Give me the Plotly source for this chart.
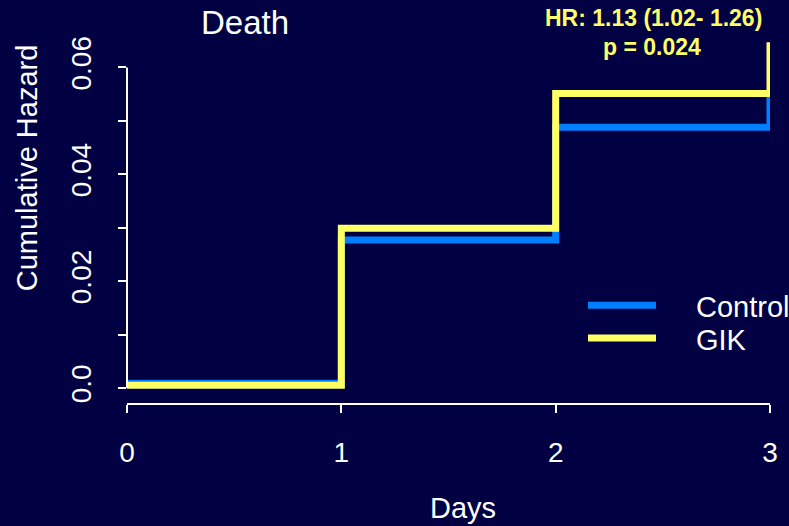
import plotly.graph_objects as go

days = [0, 1, 2, 3]
control = [0.0009, 0.0277, 0.0488, 0.0545]
gik = [0.0005, 0.0299, 0.0551, 0.0647]

y_ticks = [0.0, 0.01, 0.02, 0.03, 0.04, 0.05, 0.06]
y_labels = ["0.0", "", "0.02", "", "0.04", "", "0.06"]
x_ticks = [0, 1, 2, 3]

bg = "#000042"
blue = "#0080ff"
yellow = "#ffff66"
font = "Liberation Sans, Arial, sans-serif"

# plot area in pixels (left, right, top, bottom)
L, R, T, B = 127, 770, 13.5, 403
W, H = R - L, B - T


def px(x):
    return (x - L) / W


def py(y):
    return (B - y) / H


fig = go.Figure()
fig.add_trace(go.Scatter(x=days, y=control, mode="lines", line_shape="hv",
                         line=dict(color=blue, width=7), name="Control"))
fig.add_trace(go.Scatter(x=days, y=gik, mode="lines", line_shape="hv",
                         line=dict(color=yellow, width=7), name="GIK"))

# y axis line only from first to last tick, like R
fig.add_shape(type="line", xref="paper", yref="y", x0=0, x1=0,
              y0=y_ticks[0], y1=y_ticks[-1], line=dict(color="white", width=2))

# legend drawn by hand
for i, (lab, col) in enumerate([("Control", blue), ("GIK", yellow)]):
    yy = 305 + i * 33
    fig.add_shape(type="line", xref="paper", yref="paper",
                  x0=px(588), x1=px(656), y0=py(yy), y1=py(yy),
                  line=dict(color=col, width=7))
    fig.add_annotation(x=px(694), y=py(yy + 2), xref="paper", yref="paper",
                       text=lab, showarrow=False, xanchor="left", yanchor="middle",
                       font=dict(size=29, color="white", family=font))

fig.add_annotation(x=px(245), y=py(22), xref="paper", yref="paper", text="Death",
                   showarrow=False, xanchor="center", yanchor="middle",
                   font=dict(size=33, color="white", family=font))
fig.add_annotation(x=px(653), y=py(18), xref="paper", yref="paper",
                   text="<b>HR: 1.13 (1.02- 1.26)</b>", showarrow=False,
                   xanchor="center", yanchor="middle",
                   font=dict(size=23, color=yellow, family=font))
fig.add_annotation(x=px(652), y=py(47), xref="paper", yref="paper",
                   text="<b>p = 0.024</b>", showarrow=False,
                   xanchor="center", yanchor="middle",
                   font=dict(size=23, color=yellow, family=font))
fig.add_annotation(x=px(463), y=py(508), xref="paper", yref="paper", text="Days",
                   showarrow=False, xanchor="center", yanchor="middle",
                   font=dict(size=29, color="white", family=font))
fig.add_annotation(x=px(27), y=py(168), xref="paper", yref="paper",
                   text="Cumulative Hazard", textangle=-90, showarrow=False,
                   xanchor="center", yanchor="middle",
                   font=dict(size=29, color="white", family=font))

fig.update_layout(
    width=789, height=526,
    margin=dict(l=L, r=789 - R, t=T, b=526 - B),
    paper_bgcolor=bg, plot_bgcolor=bg,
    showlegend=False,
    xaxis=dict(range=[0, 3], tickvals=x_ticks, ticks="outside", ticklen=8,
               tickwidth=2, tickcolor="white", showline=True, linecolor="white",
               linewidth=2, showgrid=False, zeroline=False, ticklabelstandoff=15,
               tickfont=dict(size=28, color="white", family=font)),
    yaxis=dict(range=[-0.0028, 0.07], tickvals=y_ticks, ticktext=y_labels,
               ticks="outside", ticklen=8, tickwidth=2, tickcolor="white",
               showline=False, showgrid=False, zeroline=False, tickangle=-90,
               ticklabelstandoff=16,
               tickfont=dict(size=28, color="white", family=font)),
)

fig.write_html("out.html", config={"displayModeBar": False},
               post_script="document.body.style.margin='0';")
